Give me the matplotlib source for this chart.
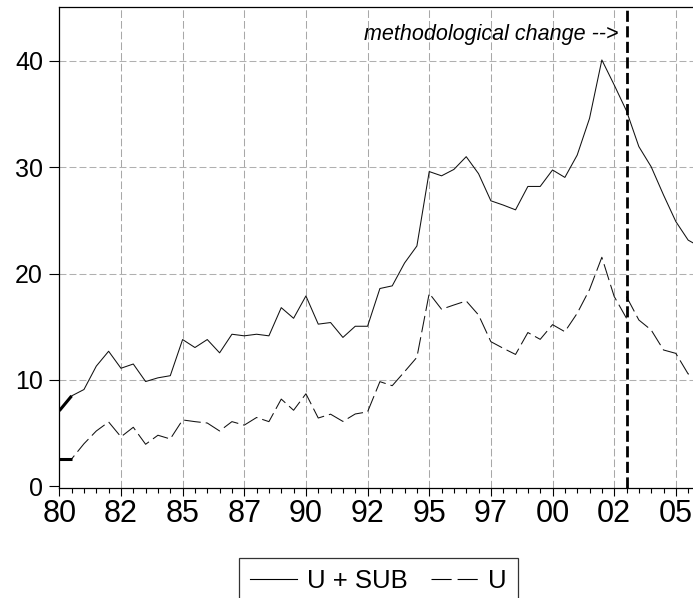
import matplotlib
matplotlib.use("Agg")
import matplotlib.pyplot as plt
import numpy as np
from matplotlib.lines import Line2D

plt.rcParams['lines.scale_dashes'] = False
plt.rcParams['font.family'] = ['Liberation Sans', 'DejaVu Sans']

# Semiannual observations, index 0 = 1980S1
u_sub = [7.1, 8.5, 9.1, 11.3, 12.7, 11.1, 11.5, 9.85, 10.2, 10.4,
         13.8, 13.05, 13.8, 12.55, 14.3, 14.15, 14.3, 14.15, 16.8, 15.8,
         17.9, 15.25, 15.4, 14.0, 15.05, 15.05, 18.6, 18.85, 21.0, 22.6,
         29.6, 29.2, 29.8, 31.0, 29.4, 26.85, 26.45, 26.0, 28.2, 28.2,
         29.75, 29.05, 31.15, 34.6, 40.1, 37.75, 35.3, 31.95, 30.05, 27.4,
         24.9, 23.15, 22.5]
# U, old methodology (obs 0..46)
u_old = [2.57, 2.57, 4.0, 5.2, 6.05, 4.65, 5.55, 3.95, 4.8, 4.45,
         6.24, 6.08, 5.95, 5.2, 6.08, 5.75, 6.47, 6.08, 8.2, 7.15,
         8.7, 6.42, 6.78, 6.1, 6.8, 7.0, 9.84, 9.46, 10.78, 12.13,
         18.15, 16.65, 17.05, 17.43, 16.11, 13.6, 12.98, 12.4, 14.46, 13.82,
         15.2, 14.54, 16.27, 18.5, 21.54, 17.85, 15.8]
# U, new methodology (obs 46..52)
u_new = [17.83, 15.64, 14.7, 12.82, 12.5, 10.56, 10.75]
change_obs = 46
tick_labels = ['80', '82', '85', '87', '90', '92', '95', '97', '00', '02', '05']
y_ticks = [0, 10, 20, 30, 40]
series_names = ['U + SUB', 'U']

fig = plt.figure(figsize=(6.93, 5.98), dpi=100)
ax = fig.add_axes([0.08557, 0.18345, 0.92525, 0.80435])

x_sub = np.arange(len(u_sub))
x_old = np.arange(len(u_old))
x_new = np.arange(change_obs, change_obs + len(u_new))

major_pos = np.arange(len(tick_labels)) * 5

# grid
for xp in major_pos[1:]:
    ax.axvline(xp, color='#a8a8a8', lw=0.75, dashes=(5.5, 2.2), zorder=1)
for yp in y_ticks[1:]:
    ax.axhline(yp, color='#b0b0b0', lw=0.75, dashes=(5, 2.2), zorder=1)

lc = '#111111'
ax.plot(x_sub, u_sub, color=lc, lw=0.75, zorder=3)
ax.plot(x_old, u_old, color=lc, lw=0.75, dashes=(12, 3.6), zorder=3)
ax.plot(x_new, u_new, color=lc, lw=0.75, dashes=(12, 3.6), zorder=3)
ax.plot(x_sub[:2], u_sub[:2], color='black', lw=2.2, solid_capstyle='butt', zorder=4)
ax.plot(x_old[:2], u_old[:2], color='black', lw=2.2, solid_capstyle='butt', zorder=4)

ax.axvline(change_obs, color='black', lw=2.0, dashes=(8, 3.2), zorder=5)
ax.annotate('methodological change -->', xy=(change_obs, 41.97), xytext=(-6, 0),
            textcoords='offset points', ha='right', va='baseline',
            fontstyle='italic', fontsize=15.5, color='black')

ax.set_xlim(0, 52)
ax.set_ylim(-0.19, 45.05)

ax.set_xticks(major_pos)
ax.set_xticklabels(tick_labels)
ax.set_xticks(np.arange(0, 53), minor=True)
ax.set_yticks(y_ticks)
ax.set_yticklabels([str(v) for v in y_ticks])

ax.tick_params(axis='x', which='major', direction='out', length=6, width=0.8,
               pad=2, labelsize=22)
ax.tick_params(axis='x', which='minor', direction='out', length=3.8, width=0.8)
ax.tick_params(axis='y', which='major', direction='out', length=7.2, width=0.8,
               pad=4.5, labelsize=18)

for s in ['left', 'top', 'bottom', 'right']:
    ax.spines[s].set_linewidth(0.9)
    ax.spines[s].set_color('black')

handles = [Line2D([], [], color='black', lw=0.8),
           Line2D([], [], color='black', lw=0.8, dashes=(14.5, 4.3))]
leg = fig.legend(handles, series_names, loc='upper center',
                 bbox_to_anchor=(378.5 / 693, 1 - 558 / 598), ncol=2,
                 frameon=True, fancybox=False, edgecolor='black',
                 fontsize=18.5, handlelength=1.83, handletextpad=0.39,
                 columnspacing=0.9, borderpad=0.42, borderaxespad=0)
leg.get_frame().set_linewidth(0.9)

fig.savefig('out.png', dpi=100)
